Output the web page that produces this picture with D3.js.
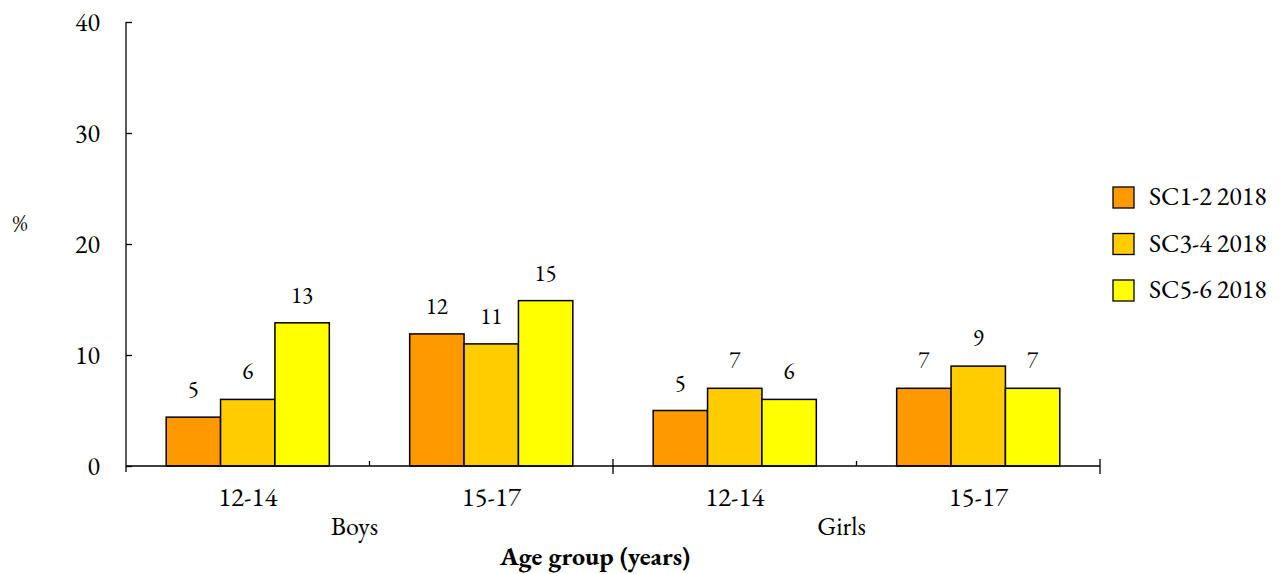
<!DOCTYPE html>
<html lang="en">
<head>
    <meta charset="utf-8" />
    <title>Age group bars</title>
    <script src="https://d3js.org/d3.v7.min.js"></script>
</head>
<body style="margin:0">
    <script>
        // Data
        const categories = ["12-14", "15-17", "12-14", "15-17"];
        const genders = ["Boys", "Girls"];
        const series = ["SC1-2 2018", "SC3-4 2018", "SC5-6 2018"];
        const sc12 = [4.4, 11.9, 5.0, 7.0];
        const sc34 = [6.0, 11.0, 7.0, 9.0];
        const sc56 = [12.9, 14.9, 6.0, 7.0];
        const lab12 = ["5", "12", "5", "7"];
        const lab34 = ["6", "11", "7", "9"];
        const lab56 = ["13", "15", "6", "7"];
        const yTicks = [0, 10, 20, 30, 40];
        const colors = ["#ff9900", "#ffcc00", "#ffff00"];

        const width = 1284;
        const height = 574;
        const mLeft = 126, mRight = 1100, mTop = 22, mBottom = 466;
        const font = "'EB Garamond', 'Liberation Serif', serif";

        const values = [sc12, sc34, sc56];
        const labels = [lab12, lab34, lab56];
        const rows = [];
        categories.forEach((c, i) => {
            series.forEach((s, j) => {
                rows.push({ cat: i, series: s, value: values[j][i], label: labels[j][i], color: colors[j] });
            });
        });

        const svg = d3.select("body")
            .append("svg")
            .attr("width", width)
            .attr("height", height);

        // scales
        const x0 = d3.scaleBand()
            .domain(d3.range(categories.length))
            .range([mLeft, mRight]);
        const bw = x0.bandwidth();
        const x1 = d3.scaleBand()
            .domain(series)
            .range([bw * 0.165, bw * 0.835]);
        const xg = d3.scaleBand()
            .domain(genders)
            .range([mLeft, mRight]);
        const y = d3.scaleLinear()
            .domain([0, 40])
            .range([mBottom, mTop]);

        // bars
        svg.append("g")
            .selectAll("rect")
            .data(rows)
            .enter()
            .append("rect")
            .attr("x", d => x0(d.cat) + x1(d.series))
            .attr("y", d => y(d.value))
            .attr("width", x1.bandwidth())
            .attr("height", d => y(0) - y(d.value))
            .attr("fill", d => d.color)
            .attr("stroke", "#000")
            .attr("stroke-width", 1.5);

        // value labels
        svg.append("g")
            .selectAll("text")
            .data(rows)
            .enter()
            .append("text")
            .attr("x", d => x0(d.cat) + x1(d.series) + x1.bandwidth() / 2)
            .attr("y", d => y(d.value) - 20)
            .attr("text-anchor", "middle")
            .style("font-family", font)
            .style("font-size", "23px")
            .text(d => d.label);

        // y axis
        const yAxis = d3.axisLeft(y)
            .tickValues(yTicks)
            .tickSize(-6)
            .tickPadding(26)
            .tickFormat(d3.format("d"));
        const gy = svg.append("g")
            .attr("transform", "translate(" + mLeft + ",0)")
            .call(yAxis);
        gy.select(".domain").remove();
        gy.selectAll(".tick line").attr("stroke", "#000").attr("stroke-width", 1.3);
        gy.selectAll(".tick text")
            .attr("fill", "#000")
            .style("font-family", font)
            .style("font-size", "26px");
        gy.append("line")
            .attr("x1", 0).attr("x2", 0)
            .attr("y1", y(40)).attr("y2", y(0) + 6)
            .attr("stroke", "#000").attr("stroke-width", 1.3);

        // x axis baseline and ticks
        const gx = svg.append("g");
        gx.append("line")
            .attr("x1", mLeft).attr("x2", mRight)
            .attr("y1", y(0)).attr("y2", y(0))
            .attr("stroke", "#000").attr("stroke-width", 1.3);
        // small ticks between age groups inside a gender
        gx.selectAll(".minor")
            .data([1, 3])
            .enter()
            .append("line")
            .attr("x1", d => x0(d)).attr("x2", d => x0(d))
            .attr("y1", y(0) - 5).attr("y2", y(0))
            .attr("stroke", "#000").attr("stroke-width", 1.3);
        // long ticks at gender boundaries
        gx.selectAll(".major")
            .data(genders)
            .enter()
            .append("line")
            .attr("x1", d => xg(d) + xg.bandwidth()).attr("x2", d => xg(d) + xg.bandwidth())
            .attr("y1", y(0) - 7).attr("y2", y(0) + 8)
            .attr("stroke", "#000").attr("stroke-width", 1.3);

        // category labels
        gx.selectAll(".cat")
            .data(categories)
            .enter()
            .append("text")
            .attr("x", (d, i) => x0(i) + bw / 2)
            .attr("y", mBottom + 40)
            .attr("text-anchor", "middle")
            .style("font-family", font)
            .style("font-size", "27px")
            .text(d => d);

        // gender labels
        gx.selectAll(".gender")
            .data(genders)
            .enter()
            .append("text")
            .attr("x", d => xg(d) + xg.bandwidth() / 2 - 15)
            .attr("y", mBottom + 69)
            .attr("text-anchor", "middle")
            .style("font-family", font)
            .style("font-size", "26px")
            .text(d => d);

        // axis titles
        svg.append("text")
            .attr("x", (mLeft + mRight) / 2 - 18)
            .attr("y", mBottom + 99)
            .attr("text-anchor", "middle")
            .style("font-family", font)
            .style("font-size", "26px")
            .style("font-weight", "bold")
            .text("Age group (years)");

        svg.append("text")
            .attr("x", 20)
            .attr("y", 231)
            .attr("text-anchor", "middle")
            .style("font-family", font)
            .style("font-size", "23px")
            .text("%");

        // legend
        const legend = svg.append("g")
            .selectAll("g")
            .data(series)
            .enter()
            .append("g")
            .attr("transform", (d, i) => "translate(1113," + (187 + i * 46.5) + ")");
        legend.append("rect")
            .attr("width", 21)
            .attr("height", 21)
            .attr("fill", (d, i) => colors[i])
            .attr("stroke", "#000")
            .attr("stroke-width", 1.3);
        legend.append("text")
            .attr("x", 36)
            .attr("y", 18)
            .style("font-family", font)
            .style("font-size", "26px")
            .text(d => d);
    </script>
</body>
</html>
